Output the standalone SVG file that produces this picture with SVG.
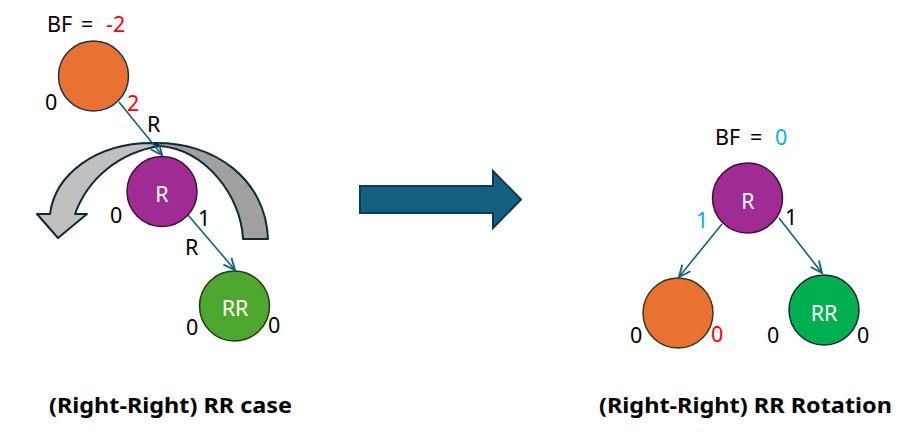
<svg xmlns="http://www.w3.org/2000/svg" width="909" height="436" viewBox="0 0 909 436">
<style>
text{font-family:"Noto Sans","Open Sans","DejaVu Sans",sans-serif;font-size:21.5px;fill:#000}
.w{fill:#fff}
.red{fill:#ff0000}
.blue{fill:#00b0f0}
.cap{font-weight:bold;font-size:21px}
.node{stroke-width:1.5}
.conn{stroke:#156082;stroke-width:1.6;fill:none;marker-end:url(#ah)}
.band{stroke:#0e2a38;stroke-width:2;stroke-linejoin:round}
</style>
<defs>
<marker id="ah" markerUnits="userSpaceOnUse" markerWidth="14" markerHeight="14" viewBox="0 0 12 12" refX="11" refY="6" orient="auto">
<path d="M1,1.5 L11,6 L1,10.5" fill="none" stroke="#156082" stroke-width="1.6"/>
</marker>
</defs>
<rect width="909" height="436" fill="#fff"/>

<g id="rotation-arrow">
<path class="band" fill="#a0a0a0" d="M152,143 C215,141 266,180 268,239 L243,239 C241,196 206,150 160,146 Z"/>
<path class="band" fill="#c0c0c0" d="M50,214 L37,214 L58,238 L87,214 L75,214 C88,178 120,152 160,146 L152,143 C95,143 55,175 50,214 Z"/>
</g>

<g id="connectors">
<line class="conn" x1="119" y1="102" x2="162" y2="155"/>
<line class="conn" x1="188" y1="215" x2="235" y2="270"/>
<line class="conn" x1="722" y1="224" x2="679" y2="277"/>
<line class="conn" x1="779" y1="218" x2="822" y2="273"/>
</g>

<g id="big-arrow">
<polygon points="360,186 493,186 493,171 521,199.5 493,228 493,213 360,213" fill="#156082" stroke="#0e3a4f" stroke-width="2" stroke-linejoin="miter"/>
</g>

<g id="bf-left">
<text x="47" y="32">BF</text><text x="81" y="32">=</text><text class="red" x="106" y="32">-2</text>
</g>

<g id="node-top">
<circle class="node" cx="93.5" cy="76" r="35" fill="#e97132" stroke="#1b3347"/>
<text x="45" y="110">0</text>
<text class="red" x="127" y="111">2</text>
</g>

<text x="147" y="132">R</text>

<g id="node-r-left">
<circle class="node" cx="162" cy="191.5" r="35" fill="#a02b93" stroke="#3d0f37"/>
<text class="w" x="162" y="202" text-anchor="middle">R</text>
<text x="110" y="223">0</text>
<text x="198" y="226">1</text>
</g>

<text x="185" y="255">R</text>

<g id="node-rr-left">
<circle class="node" cx="234.5" cy="306" r="35" fill="#4ea72e" stroke="#1f3d12"/>
<text class="w" x="235" y="316" text-anchor="middle">RR</text>
<text x="186" y="335">0</text>
<text x="268" y="333">0</text>
</g>

<g id="bf-right">
<text x="715" y="145">BF</text><text x="750" y="145">=</text><text class="blue" x="775" y="145">0</text>
</g>

<g id="node-r-right">
<circle class="node" cx="747.5" cy="198" r="35" fill="#a02b93" stroke="#3d0f37"/>
<text class="w" x="748" y="209" text-anchor="middle">R</text>
<text class="blue" x="696" y="228">1</text>
<text x="785" y="225">1</text>
</g>

<g id="node-orange-right">
<circle class="node" cx="678" cy="313" r="35" fill="#e97132" stroke="#2e3d14"/>
<text x="630" y="343">0</text>
<text class="red" x="711" y="342">0</text>
</g>

<g id="node-rr-right">
<circle class="node" cx="824" cy="310" r="35" fill="#00b050" stroke="#0e2a38"/>
<text class="w" x="824" y="321" text-anchor="middle">RR</text>
<text x="767" y="343">0</text>
<text x="857" y="343">0</text>
</g>

<text class="cap" x="49" y="413" textLength="243" lengthAdjust="spacingAndGlyphs">(Right-Right) RR case</text>
<text class="cap" x="599" y="413" textLength="293" lengthAdjust="spacingAndGlyphs">(Right-Right) RR Rotation</text>
</svg>
